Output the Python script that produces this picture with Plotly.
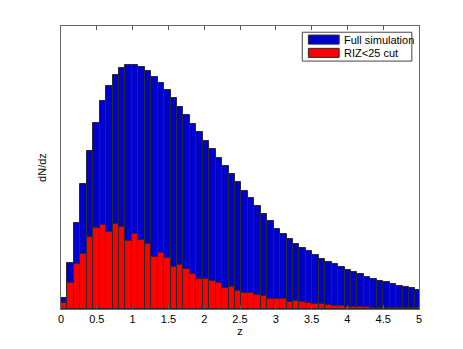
import plotly.graph_objects as go

# histogram of simulated redshifts, bin width 0.09 starting at z=0
bin_width = 0.09
bin_centers = [bin_width / 2 + bin_width * k for k in range(56)]

full_sim = [10.7, 45.7, 86.0, 124.7, 158.3, 186.0, 208.0, 223.5, 234.5, 241.0,
            244.0, 244.0, 241.7, 237.7, 232.3, 226.0, 218.7, 210.7, 202.3, 193.8,
            185.5, 176.8, 168.5, 160.2, 151.5, 143.2, 134.8, 126.7, 118.5, 110.7,
            102.7, 95.3, 87.7, 80.3, 74.7, 70.0, 65.3, 61.3, 57.7, 53.7,
            50.3, 47.3, 44.7, 41.7, 39.0, 36.7, 34.7, 32.3, 30.0, 28.3,
            26.7, 25.0, 23.3, 22.0, 20.7, 19.0]

riz_cut = [6.0, 25.7, 45.0, 55.0, 72.5, 81.0, 84.0, 76.7, 84.8, 82.3,
           68.3, 75.3, 68.7, 65.3, 52.3, 56.0, 51.3, 42.3, 44.3, 40.0,
           35.2, 30.3, 30.3, 27.7, 25.7, 20.7, 21.7, 18.3, 15.7, 16.5,
           14.2, 13.2, 10.5, 10.5, 9.7, 7.3, 8.0, 6.7, 6.3, 5.0,
           5.3, 4.3, 3.3, 3.0, 2.5, 2.2, 2.0, 1.7, 1.5, 1.3,
           1.2, 1.0, 0.9, 0.8, 0.7, 0.6]

x_ticks = [0, 0.5, 1, 1.5, 2, 2.5, 3, 3.5, 4, 4.5, 5]
x_tick_text = ["0", "0.5", "1", "1.5", "2", "2.5", "3", "3.5", "4", "4.5", "5"]

BLUE = "#0000CC"
RED = "#FF0000"
EDGE = "#2a2a2a"

fig = go.Figure()
fig.add_trace(go.Bar(x=bin_centers, y=full_sim, width=bin_width, name="Full simulation",
                     marker=dict(color=BLUE, line=dict(color=EDGE, width=1))))
fig.add_trace(go.Bar(x=bin_centers, y=riz_cut, width=bin_width, name="RIZ<25 cut",
                     marker=dict(color=RED, line=dict(color=EDGE, width=1))))

# page body adds an 8px offset, margins compensate for it
fig.update_layout(
    width=463, height=349,
    margin=dict(l=53, r=52, t=18, b=48),
    paper_bgcolor="white", plot_bgcolor="white",
    barmode="overlay", bargap=0,
    showlegend=False,
    font=dict(family="Liberation Sans, Arial, sans-serif", size=11, color="black"),
)

fig.update_xaxes(range=[0, 5], tickvals=x_ticks, ticktext=x_tick_text,
                 ticks="inside", ticklen=4, tickcolor="#555",
                 showline=True, linecolor="#666", linewidth=1, mirror="ticks",
                 showgrid=False, zeroline=False,
                 title=dict(text="z", standoff=2, font=dict(size=11)), automargin=False)
fig.update_yaxes(range=[0, 283], showticklabels=False, ticks="",
                 showline=True, linecolor="#666", linewidth=1, mirror=True,
                 showgrid=False, zeroline=False,
                 title=dict(text="dN/dz", standoff=11, font=dict(size=11)), automargin=False)

# MATLAB-style legend box with wide colour patches
fig.add_shape(type="rect", xref="paper", yref="paper", x0=0.674, x1=0.980, y0=0.876, y1=0.978,
              line=dict(color="#444", width=1), fillcolor="white", layer="above")
legend_items = [("Full simulation", BLUE, 0.936, 0.968, 0.951),
                ("RIZ<25 cut", RED, 0.889, 0.921, 0.906)]
for label, colour, y0, y1, ytext in legend_items:
    fig.add_shape(type="rect", xref="paper", yref="paper", x0=0.691, x1=0.777, y0=y0, y1=y1,
                  line=dict(color=EDGE, width=1), fillcolor=colour, layer="above")
    fig.add_annotation(xref="paper", yref="paper", x=0.786, y=ytext, text=label,
                       showarrow=False, xanchor="left", yanchor="middle",
                       font=dict(size=11, color="black"))

fig.write_html("out.html")
